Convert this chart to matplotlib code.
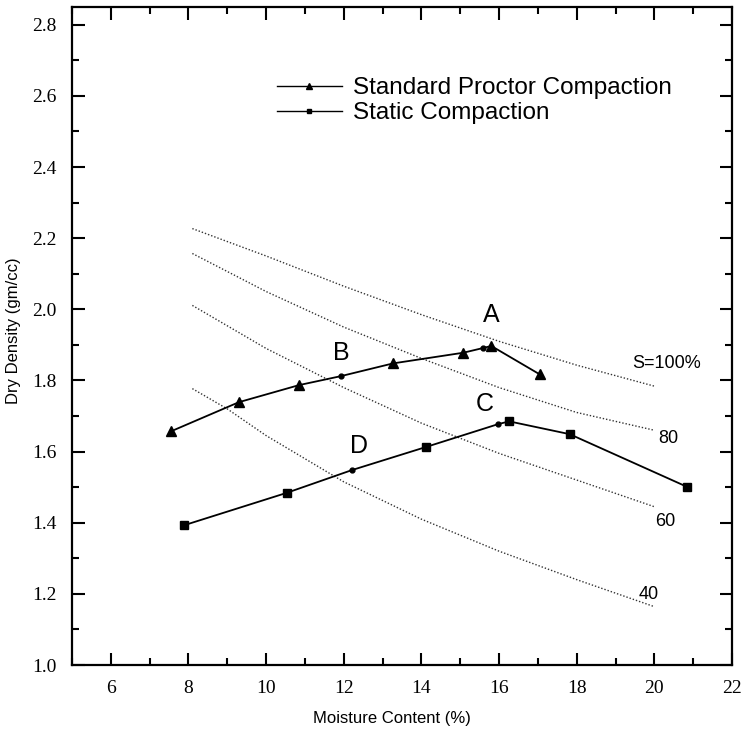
import matplotlib
matplotlib.use("Agg")
import matplotlib.pyplot as plt
from matplotlib.lines import Line2D
from matplotlib.ticker import MultipleLocator

# Standard Proctor compaction (moisture %, dry density gm/cc)
proctor_w = [7.55, 9.30, 10.85, 11.92, 13.27, 15.08, 15.58, 15.80, 17.05]
proctor_d = [1.657, 1.739, 1.787, 1.812, 1.848, 1.878, 1.891, 1.897, 1.817]
proctor_dots = [3, 6]  # small dots on the curve (B and A)

# Static compaction
static_w = [7.89, 10.53, 12.21, 14.12, 15.97, 16.26, 17.82, 20.84]
static_d = [1.393, 1.484, 1.548, 1.613, 1.677, 1.685, 1.649, 1.501]
static_dots = [2, 4]  # small dots (D and C)

# saturation lines
sat_w = [8.1, 10, 12, 14, 16, 18, 20]
sat_100 = [2.227, 2.150, 2.065, 1.985, 1.910, 1.843, 1.784]
sat_80 = [2.157, 2.050, 1.950, 1.862, 1.780, 1.710, 1.660]
sat_60 = [2.011, 1.890, 1.780, 1.680, 1.595, 1.520, 1.445]
sat_40_w = [8.1, 9.0, 10, 12, 14, 16, 18, 20]
sat_40 = [1.777, 1.720, 1.645, 1.515, 1.410, 1.320, 1.240, 1.164]

sat_labels = ["S=100%", "80", "60", "40"]
point_labels = ["A", "B", "C", "D"]
point_label_pos = [(15.81, 1.983), (11.93, 1.878), (15.64, 1.735), (12.40, 1.615)]

plt.rcParams['font.family'] = ['Liberation Sans', 'DejaVu Sans']

fig = plt.figure(figsize=(7.44, 7.34), dpi=100)
ax = fig.add_axes([72 / 744, 69 / 734, 660 / 744, 658 / 734])

# saturation curves
for xs, ys in [(sat_w, sat_100), (sat_w, sat_80), (sat_w, sat_60), (sat_40_w, sat_40)]:
    ax.plot(xs, ys, linestyle=(0, (1, 1.4)), color='#333333', linewidth=1.0)

ax.text(19.42, 1.847, sat_labels[0], fontsize=13, va='center', ha='left')
ax.text(20.37, 1.637, sat_labels[1], fontsize=13, va='center', ha='center')
ax.text(20.27, 1.403, sat_labels[2], fontsize=13, va='center', ha='center')
ax.text(19.85, 1.199, sat_labels[3], fontsize=13, va='center', ha='center')

# compaction curves
ax.plot(proctor_w, proctor_d, color='black', linewidth=1.3)
tri_w = [w for i, w in enumerate(proctor_w) if i not in proctor_dots]
tri_d = [d for i, d in enumerate(proctor_d) if i not in proctor_dots]
ax.plot(tri_w, tri_d, linestyle='none', marker='^', markersize=7, color='black')
ax.plot([proctor_w[i] for i in proctor_dots], [proctor_d[i] for i in proctor_dots],
        linestyle='none', marker='o', markersize=3.5, color='black')

ax.plot(static_w, static_d, color='black', linewidth=1.3)
sq_w = [w for i, w in enumerate(static_w) if i not in static_dots]
sq_d = [d for i, d in enumerate(static_d) if i not in static_dots]
ax.plot(sq_w, sq_d, linestyle='none', marker='s', markersize=6, color='black')
ax.plot([static_w[i] for i in static_dots], [static_d[i] for i in static_dots],
        linestyle='none', marker='o', markersize=3.5, color='black')

for lab, (px, py) in zip(point_labels, point_label_pos):
    ax.text(px, py, lab, fontsize=18, ha='center', va='center')

# legend
handles = [Line2D([], [], color='black', linewidth=1.0, marker='^', markersize=4.5),
           Line2D([], [], color='black', linewidth=1.0, marker='s', markersize=3.5)]
ax.legend(handles, ["Standard Proctor Compaction", "Static Compaction"],
          loc='upper left', bbox_to_anchor=(0.31, 0.893), frameon=False,
          fontsize=17.5, handlelength=2.7, handletextpad=0.45,
          labelspacing=0.12, borderpad=0, borderaxespad=0)

# axes
ax.set_xlim(5, 22)
ax.set_ylim(1.0, 2.85)
ax.xaxis.set_minor_locator(MultipleLocator(1))
ax.yaxis.set_minor_locator(MultipleLocator(0.1))
ax.set_xticks([6, 8, 10, 12, 14, 16, 18, 20, 22])
ax.set_yticks([1.0, 1.2, 1.4, 1.6, 1.8, 2.0, 2.2, 2.4, 2.6, 2.8])
ax.set_yticklabels(["1.0", "1.2", "1.4", "1.6", "1.8", "2.0", "2.2", "2.4", "2.6", "2.8"])
ax.tick_params(which='both', direction='in', top=True, right=True, width=1.5)
ax.tick_params(which='major', length=9, pad=11)
ax.tick_params(which='minor', length=5)
for lbl in ax.get_xticklabels() + ax.get_yticklabels():
    lbl.set_family(['Liberation Serif', 'DejaVu Serif'])
    lbl.set_fontsize(14)
for sp in ax.spines.values():
    sp.set_linewidth(1.6)

ax.set_xlabel("Moisture Content (%)", fontsize=12)
ax.xaxis.set_label_coords(0.485, -0.07)
ax.set_ylabel("Dry Density (gm/cc)", fontsize=12)
ax.yaxis.set_label_coords(-0.077, 0.508)

fig.savefig("out.png", dpi=100)
